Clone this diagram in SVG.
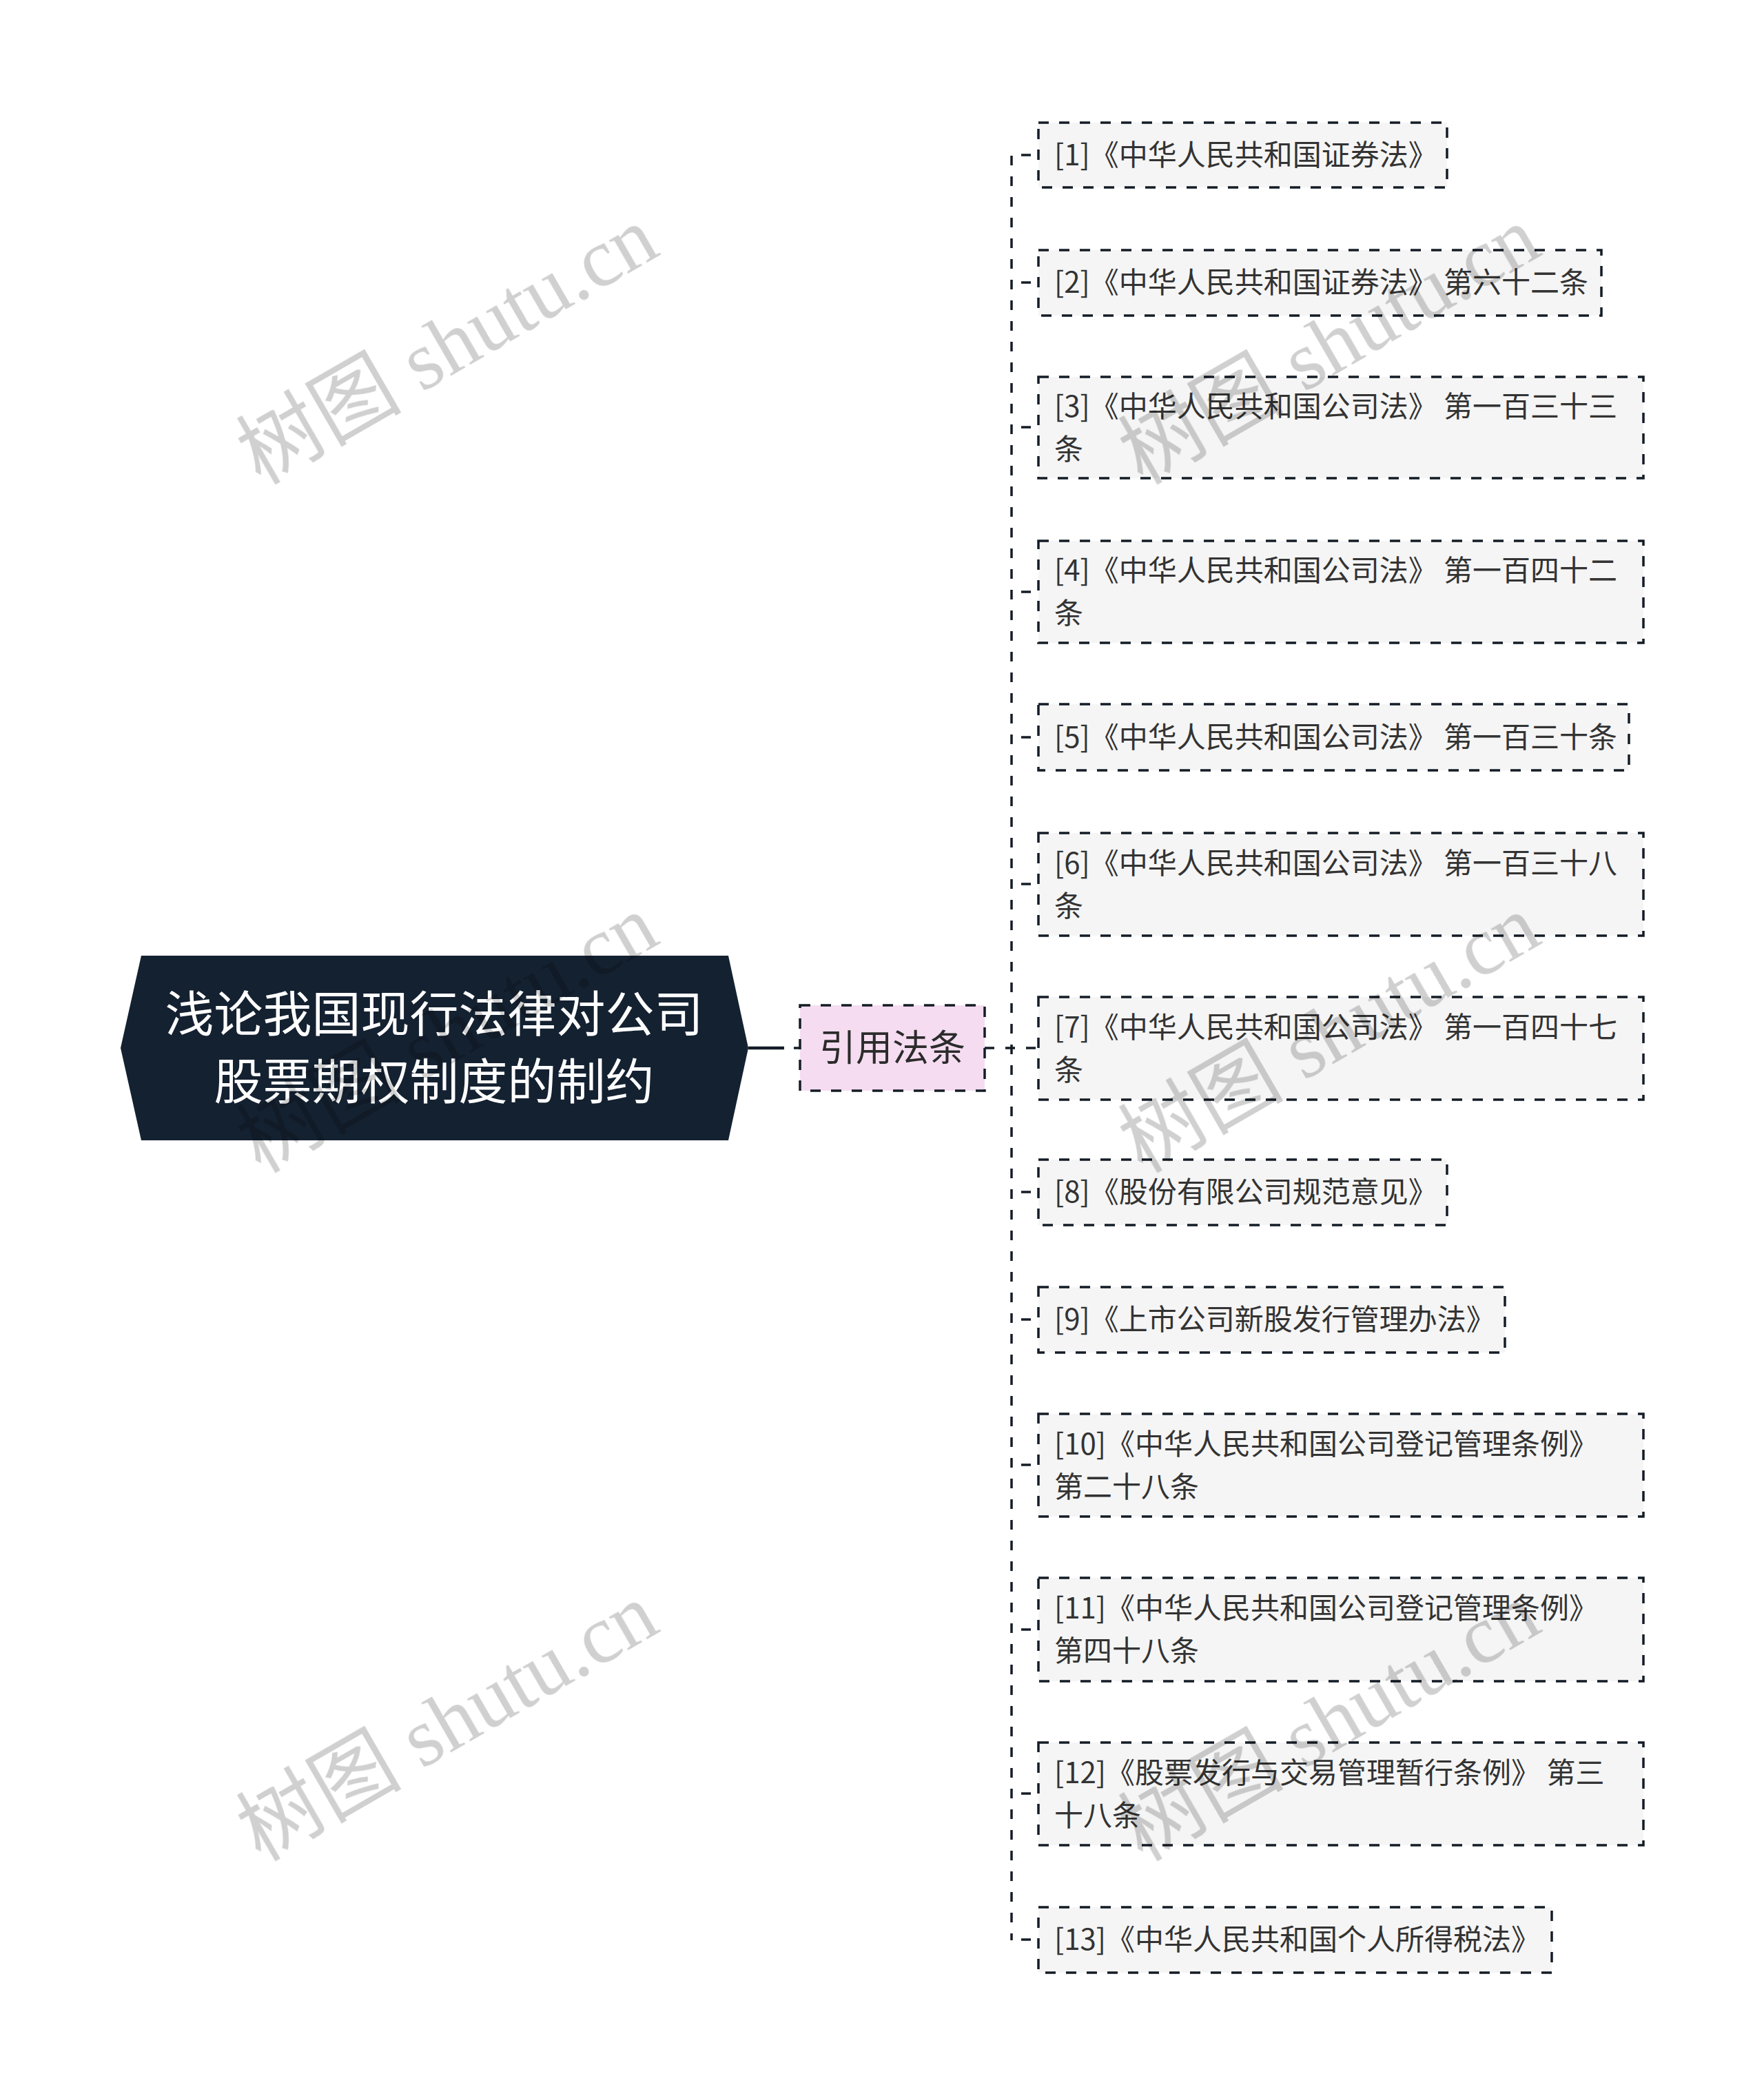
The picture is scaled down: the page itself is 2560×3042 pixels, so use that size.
<svg xmlns="http://www.w3.org/2000/svg" width="2560" height="3042" viewBox="0 0 2560 3042">
<style>
.bg{fill:#ffffff}
.root{fill:#142131}
.roottext{font-family:"Noto Sans CJK SC","Noto Sans",sans-serif;font-size:71px;fill:#ffffff;text-anchor:middle}
.mid{fill:#f5dcf0;stroke:#141c26;stroke-width:3.5;stroke-dasharray:15 15}
.midtext{font-family:"Noto Sans CJK SC","Noto Sans",sans-serif;font-size:53px;fill:#2b2b2b;text-anchor:middle}
.leaf{fill:#f5f5f5;stroke:#141c26;stroke-width:3.5;stroke-dasharray:15 15}
.leaftext{font-family:"Noto Sans CJK SC","Noto Sans",sans-serif;font-size:42px;fill:#333333}
.conn{fill:none;stroke:#141c26;stroke-width:3.5;stroke-dasharray:14 16}
.solid{fill:none;stroke:#141c26;stroke-width:4.5}
.wmg{mix-blend-mode:multiply}
.wm{font-family:"Liberation Serif","Noto Sans CJK SC",serif;font-size:120px;fill:#d0d0d0}
</style>
<rect class="bg" x="0" y="0" width="2560" height="3042"/>
<g id="connectors">
<line class="solid" x1="1086" y1="1521" x2="1138" y2="1521"/>
<line class="conn" x1="1152" y1="1521" x2="1161" y2="1521"/>
<line class="conn" x1="1429" y1="1521" x2="1507" y2="1521"/>
<line class="conn" x1="1468" y1="226" x2="1468" y2="2816"/>
<line class="conn" x1="1482" y1="225" x2="1507" y2="225"/>
<line class="conn" x1="1482" y1="410" x2="1507" y2="410"/>
<line class="conn" x1="1482" y1="620" x2="1507" y2="620"/>
<line class="conn" x1="1482" y1="859" x2="1507" y2="859"/>
<line class="conn" x1="1482" y1="1070" x2="1507" y2="1070"/>
<line class="conn" x1="1482" y1="1283" x2="1507" y2="1283"/>
<line class="conn" x1="1482" y1="1730" x2="1507" y2="1730"/>
<line class="conn" x1="1482" y1="1915" x2="1507" y2="1915"/>
<line class="conn" x1="1482" y1="2126" x2="1507" y2="2126"/>
<line class="conn" x1="1482" y1="2365" x2="1507" y2="2365"/>
<line class="conn" x1="1482" y1="2603" x2="1507" y2="2603"/>
<line class="conn" x1="1482" y1="2815" x2="1507" y2="2815"/>
</g>
<g id="root">
<polygon class="root" points="175,1521 205,1387 1057,1387 1086,1521 1057,1655 205,1655"/>
<text class="roottext" x="630" y="1497">浅论我国现行法律对公司<tspan x="630" y="1595">股票期权制度的制约</tspan></text>
</g>
<g id="cite">
<rect class="mid" x="1161" y="1459" width="268" height="124"/>
<text class="midtext" x="1295" y="1540">引用法条</text>
</g>
<g id="n1">
<rect class="leaf" x="1507" y="178" width="593" height="94"/>
<text class="leaftext" x="1530" y="240">[1]《中华人民共和国证券法》</text>
</g>
<g id="n2">
<rect class="leaf" x="1507" y="363" width="817" height="95"/>
<text class="leaftext" x="1530" y="425">[2]《中华人民共和国证券法》 第六十二条</text>
</g>
<g id="n3">
<rect class="leaf" x="1507" y="547" width="878" height="147"/>
<text class="leaftext" x="1530" y="605">[3]《中华人民共和国公司法》 第一百三十三<tspan x="1530" y="667">条</tspan></text>
</g>
<g id="n4">
<rect class="leaf" x="1507" y="785" width="878" height="148"/>
<text class="leaftext" x="1530" y="843">[4]《中华人民共和国公司法》 第一百四十二<tspan x="1530" y="905">条</tspan></text>
</g>
<g id="n5">
<rect class="leaf" x="1507" y="1022" width="857" height="96"/>
<text class="leaftext" x="1530" y="1085">[5]《中华人民共和国公司法》 第一百三十条</text>
</g>
<g id="n6">
<rect class="leaf" x="1507" y="1209" width="878" height="149"/>
<text class="leaftext" x="1530" y="1268">[6]《中华人民共和国公司法》 第一百三十八<tspan x="1530" y="1330">条</tspan></text>
</g>
<g id="n7">
<rect class="leaf" x="1507" y="1447" width="878" height="149"/>
<text class="leaftext" x="1530" y="1506">[7]《中华人民共和国公司法》 第一百四十七<tspan x="1530" y="1568">条</tspan></text>
</g>
<g id="n8">
<rect class="leaf" x="1507" y="1683" width="593" height="95"/>
<text class="leaftext" x="1530" y="1745">[8]《股份有限公司规范意见》</text>
</g>
<g id="n9">
<rect class="leaf" x="1507" y="1868" width="677" height="95"/>
<text class="leaftext" x="1530" y="1930">[9]《上市公司新股发行管理办法》</text>
</g>
<g id="n10">
<rect class="leaf" x="1507" y="2052" width="878" height="149"/>
<text class="leaftext" x="1530" y="2111">[10]《中华人民共和国公司登记管理条例》<tspan x="1530" y="2173">第二十八条</tspan></text>
</g>
<g id="n11">
<rect class="leaf" x="1507" y="2290" width="878" height="150"/>
<text class="leaftext" x="1530" y="2349">[11]《中华人民共和国公司登记管理条例》<tspan x="1530" y="2411">第四十八条</tspan></text>
</g>
<g id="n12">
<rect class="leaf" x="1507" y="2529" width="878" height="149"/>
<text class="leaftext" x="1530" y="2588">[12]《股票发行与交易管理暂行条例》 第三<tspan x="1530" y="2650">十八条</tspan></text>
</g>
<g id="n13">
<rect class="leaf" x="1507" y="2768" width="745" height="95"/>
<text class="leaftext" x="1530" y="2830">[13]《中华人民共和国个人所得税法》</text>
</g>
<g id="watermark" class="wmg">
<text class="wm" transform="translate(378,705) rotate(-30)">树图 shutu.cn</text>
<text class="wm" transform="translate(1658,705) rotate(-30)">树图 shutu.cn</text>
<text class="wm" transform="translate(378,1704) rotate(-30)">树图 shutu.cn</text>
<text class="wm" transform="translate(1658,1704) rotate(-30)">树图 shutu.cn</text>
<text class="wm" transform="translate(378,2703) rotate(-30)">树图 shutu.cn</text>
<text class="wm" transform="translate(1658,2703) rotate(-30)">树图 shutu.cn</text>
</g>
</svg>
